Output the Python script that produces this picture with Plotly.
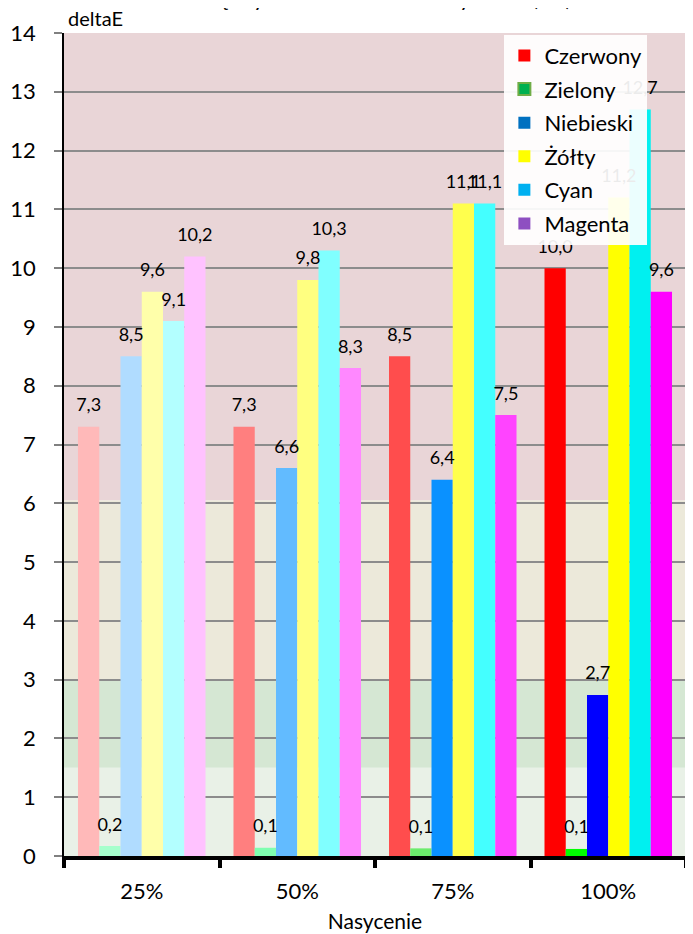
"""deltaE per saturation level for six printed colours."""

import plotly.graph_objects as go

# ------------------------------------------------------------------
# Data
# ------------------------------------------------------------------

saturation = ['25%', '50%', '75%', '100%']
series_names = ['Czerwony', 'Zielony', 'Niebieski', 'Żółty', 'Cyan', 'Magenta']

czerwony = [7.3, 7.3, 8.5, 10.0]
zielony = [0.17, 0.14, 0.13, 0.12]
niebieski = [8.5, 6.6, 6.4, 2.74]
zolty = [9.6, 9.8, 11.1, 11.2]
cyan = [9.1, 10.3, 11.1, 12.7]
magenta = [10.2, 8.3, 7.5, 9.6]

series_values = [czerwony, zielony, niebieski, zolty, cyan, magenta]

# bar colours get stronger with saturation
bar_colors = [
    ['#ffb9b9', '#ff7f7f', '#ff4d4d', '#ff0000'],
    ['#a6ffcc', '#7fffb0', '#6cec6c', '#00ff00'],
    ['#b0dcff', '#62bbff', '#0a91ff', '#0000ff'],
    ['#ffffaa', '#ffff80', '#ffff4d', '#ffff00'],
    ['#b3ffff', '#80ffff', '#44ffff', '#00f0f0'],
    ['#ffc2ff', '#ff88ff', '#ff44ff', '#ff00ff'],
]
legend_colors = ['#ff0000', '#00b050', '#0070c0', '#ffff00', '#00b0f0', '#8e4fc1']

# background bands (deltaE ranges)
bands = [(0, 1.5, '#e9f1e7'), (1.5, 3, '#d5e7d3'), (3, 6.05, '#ece9da'), (6.05, 14, '#e9d5d7')]

FONT = 'Lato, "Noto Sans", sans-serif'

# ------------------------------------------------------------------
# Figure
# ------------------------------------------------------------------

fig = go.Figure()

for name, vals, cols in zip(series_names, series_values, bar_colors):
    fig.add_trace(go.Bar(
        x=saturation, y=vals, name=name,
        marker=dict(color=cols, line=dict(width=0)),
        showlegend=False, hoverinfo='skip',
    ))

# data labels (invisible markers push the text up like Excel does)
for name, vals in zip(series_names, series_values):
    fig.add_trace(go.Scatter(
        x=saturation, y=vals, mode='markers+text',
        texttemplate='%{y:.1f}', textposition='top center',
        textfont=dict(size=18, color='black', family=FONT),
        marker=dict(size=16, opacity=0),
        showlegend=False, hoverinfo='skip', cliponaxis=False,
    ))

# legend entries on a hidden overlay axis so they do not join the groups
for i, (name, col) in enumerate(zip(series_names, legend_colors)):
    line = dict(width=2, color='#70ad47') if name == 'Zielony' else dict(width=0)
    fig.add_trace(go.Scatter(
        x=[None], y=[None], mode='markers', name=name,
        marker=dict(symbol='square', size=16, color=col, line=line),
        legendgroup=f'g{i}', xaxis='x2', yaxis='y2',
    ))

for y0, y1, col in bands:
    fig.add_shape(type='rect', xref='paper', yref='y', x0=0, x1=1, y0=y0, y1=y1,
                  fillcolor=col, line=dict(width=0), layer='below')

fig.add_annotation(text='deltaE', xref='paper', yref='paper', x=0, y=1,
                   xanchor='left', yanchor='bottom', xshift=2, yshift=1,
                   showarrow=False, font=dict(size=20, color='black', family=FONT))

# chart title, mostly above the visible page like in the source image
fig.add_annotation(text='Różnica między barwami wzorca i wydruku (ΔE)',
                   xref='paper', yref='paper', x=0.45, y=1,
                   xanchor='center', yanchor='middle', yshift=36,
                   showarrow=False, font=dict(size=22, color='black', family=FONT))

fig.update_layout(
    width=685, height=926,
    margin=dict(l=56, r=7, t=25, b=78),
    paper_bgcolor='white', plot_bgcolor='white',
    barmode='group', bargap=0.18, bargroupgap=0,
    scattermode='group', scattergap=0.18,
    separators=', ',
    font=dict(family=FONT, color='black'),
    legend=dict(x=0.708, y=0.998, xanchor='left', yanchor='top',
                bgcolor='rgba(255,255,255,0.92)', font=dict(size=22, family=FONT),
                tracegroupgap=2, itemsizing='constant'),
    xaxis=dict(
        showline=True, linecolor='black', linewidth=4,
        ticks='outside', tickson='boundaries', ticklen=8, tickwidth=4, tickcolor='black',
        tickfont=dict(size=22), ticklabelstandoff=13,
        title=dict(text='Nasycenie', font=dict(size=21), standoff=12),
        showgrid=False, automargin=False,
    ),
    yaxis=dict(
        range=[0, 14], dtick=1,
        showline=True, linecolor='black', linewidth=1.5,
        ticks='outside', ticklen=8, tickwidth=2, tickcolor='#808080',
        tickfont=dict(size=22), ticklabelstandoff=14,
        showgrid=True, gridcolor='#8c8c8c', gridwidth=2,
        zeroline=False, automargin=False,
    ),
    xaxis2=dict(overlaying='x', visible=False),
    yaxis2=dict(overlaying='y', visible=False),
)

fig.write_html('out.html')
